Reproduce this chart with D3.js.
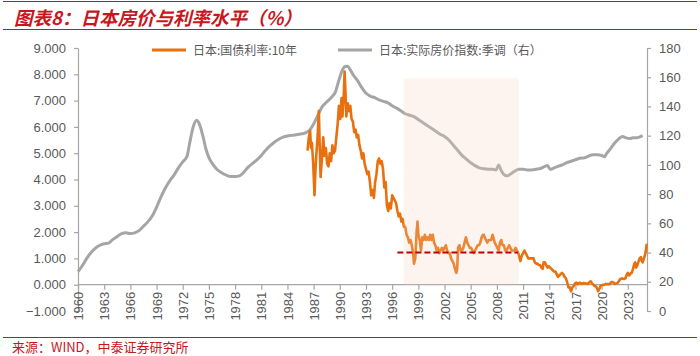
<!DOCTYPE html>
<html><head><meta charset="utf-8">
<script src="https://cdn.jsdelivr.net/npm/d3@7"></script>
<style>
html,body{margin:0;padding:0;background:#fff;}
svg{display:block;font-family:Arial,"Liberation Sans","Noto Sans CJK SC",sans-serif;}
</style></head>
<body>
<svg id="c" width="700" height="356"></svg>
<script>
// ---- data ----
const titleText = "图表8：日本房价与利率水平（%）";
const sourceText = "来源：WIND，中泰证券研究所";
const seriesNames = ["日本:国债利率:10年", "日本:实际房价指数:季调（右）"];
const xTickYears = d3.range(1960, 2024, 3);
const leftTicks = [-1,0,1,2,3,4,5,6,7,8,9];
const rightTicks = [0,20,40,60,80,100,120,140,160,180];

// 日本:国债利率:10年 (year, %)
const bondYears = [1986.3,1986.45,1986.6,1986.7,1986.8,1986.95,1987.1,1987.2,1987.3,1987.45,1987.6,1987.7,1987.8,1987.95,1988.1,1988.25,1988.4,1988.55,1988.7,1988.85,1989.0,1989.15,1989.3,1989.45,1989.6,1989.75,1989.9,1990.05,1990.2,1990.3,1990.45,1990.55,1990.65,1990.75,1990.9,1991.05,1991.2,1991.35,1991.5,1991.65,1991.8,1991.95,1992.1,1992.25,1992.4,1992.55,1992.7,1992.85,1993.0,1993.15,1993.3,1993.45,1993.6,1993.75,1993.9,1994.05,1994.2,1994.35,1994.5,1994.65,1994.8,1994.95,1995.1,1995.25,1995.4,1995.55,1995.7,1995.85,1996.0,1996.15,1996.3,1996.45,1996.6,1996.75,1996.9,1997.05,1997.2,1997.35,1997.5,1997.65,1997.8,1997.95,1998.1,1998.25,1998.4,1998.5,1998.65,1998.8,1998.9,1999.0,1999.15,1999.3,1999.45,1999.6,1999.75,1999.9,2000.05,2000.2,2000.35,2000.5,2000.65,2000.8,2000.95,2001.1,2001.25,2001.4,2001.55,2001.7,2001.85,2002.0,2002.15,2002.3,2002.45,2002.6,2002.75,2002.9,2003.05,2003.2,2003.35,2003.45,2003.55,2003.7,2003.85,2004.0,2004.15,2004.3,2004.45,2004.6,2004.75,2004.9,2005.05,2005.2,2005.35,2005.5,2005.65,2005.8,2005.95,2006.1,2006.25,2006.4,2006.5,2006.6,2006.75,2006.9,2007.05,2007.2,2007.35,2007.5,2007.6,2007.75,2007.9,2008.05,2008.2,2008.35,2008.5,2008.65,2008.8,2008.95,2009.1,2009.25,2009.4,2009.55,2009.7,2009.85,2010.0,2010.15,2010.3,2010.45,2010.6,2010.7,2010.85,2011.0,2011.15,2011.3,2011.45,2011.6,2011.75,2011.9,2012.05,2012.2,2012.35,2012.5,2012.65,2012.8,2012.95,2013.1,2013.25,2013.35,2013.5,2013.65,2013.8,2013.95,2014.1,2014.25,2014.4,2014.55,2014.7,2014.85,2015.0,2015.15,2015.3,2015.45,2015.6,2015.75,2015.9,2016.05,2016.2,2016.35,2016.5,2016.65,2016.8,2016.95,2017.1,2017.25,2017.4,2017.55,2017.7,2017.85,2018.0,2018.15,2018.3,2018.45,2018.6,2018.75,2018.9,2019.05,2019.2,2019.35,2019.5,2019.6,2019.75,2019.9,2020.05,2020.2,2020.35,2020.5,2020.65,2020.8,2020.95,2021.1,2021.25,2021.4,2021.55,2021.7,2021.85,2022.0,2022.15,2022.3,2022.45,2022.6,2022.75,2022.9,2023.0,2023.15,2023.3,2023.45,2023.6,2023.75,2023.85,2023.95,2024.05,2024.2,2024.35,2024.5,2024.6,2024.7,2024.85,2024.95,2025.05,2025.15,2025.2];
const bondValues = [5.1,5.6,5.85,5.2,5.4,4.6,3.4,4.3,4.9,5.6,6.6,5.2,4.1,4.8,5.6,4.9,5.2,4.6,4.5,5.0,4.7,5.3,5.0,5.1,5.6,6.1,6.8,6.3,7.1,6.4,7.2,8.1,7.3,6.4,6.9,6.6,6.8,6.3,6.2,5.8,5.9,5.6,5.7,5.3,5.1,4.8,5.0,4.6,4.4,4.2,4.3,3.9,3.4,3.6,3.3,3.9,4.2,4.7,4.8,4.6,4.7,4.4,3.7,3.9,3.0,2.8,3.1,2.9,3.4,3.3,3.2,3.1,2.8,2.6,2.7,2.4,2.5,2.2,2.2,1.9,1.8,1.6,1.7,1.5,1.2,0.8,1.0,2.0,2.4,1.9,1.7,1.3,1.8,1.7,1.9,1.7,1.8,1.7,1.9,1.7,1.9,1.6,1.5,1.3,1.4,1.2,1.3,1.4,1.3,1.4,1.5,1.3,1.2,1.2,1.0,0.9,0.8,0.6,0.45,0.6,1.4,1.5,1.3,1.3,1.4,1.6,1.8,1.6,1.5,1.4,1.4,1.3,1.2,1.3,1.4,1.5,1.5,1.6,1.8,1.9,1.9,1.8,1.7,1.6,1.7,1.7,1.7,1.9,1.8,1.6,1.5,1.4,1.3,1.6,1.7,1.5,1.5,1.3,1.3,1.4,1.5,1.4,1.3,1.3,1.3,1.4,1.3,1.2,1.0,0.9,1.1,1.2,1.3,1.2,1.1,1.0,1.0,1.0,1.0,1.0,0.85,0.8,0.8,0.75,0.75,0.65,0.6,0.85,0.85,0.75,0.65,0.7,0.65,0.6,0.55,0.5,0.5,0.4,0.3,0.35,0.4,0.45,0.4,0.3,0.25,0.1,-0.1,-0.1,-0.25,-0.1,-0.05,0.05,0.08,0.02,0.06,0.07,0.03,0.05,0.06,0.04,0.04,0.03,0.1,0.13,0.05,0.0,-0.05,-0.07,-0.15,-0.25,-0.15,-0.03,-0.02,0.0,0.0,0.03,0.02,0.02,0.02,0.1,0.1,0.07,0.03,0.05,0.07,0.15,0.22,0.24,0.23,0.22,0.25,0.4,0.45,0.35,0.42,0.45,0.6,0.8,0.85,0.65,0.7,0.85,1.0,1.05,0.9,0.85,1.0,1.1,1.25,1.5,1.55];

// 日本:实际房价指数:季调 (year, index) — right axis
const houseYears = [1960.0,1960.5,1961.0,1961.5,1962.0,1962.5,1963.0,1963.5,1964.0,1964.5,1965.0,1965.5,1966.0,1966.5,1967.0,1967.5,1968.0,1968.5,1969.0,1969.5,1970.0,1970.5,1971.0,1971.5,1972.0,1972.5,1972.8,1973.2,1973.6,1973.9,1974.3,1974.7,1975.0,1975.5,1976.0,1976.5,1977.0,1977.5,1978.0,1978.5,1979.0,1979.5,1980.0,1980.5,1981.0,1981.5,1982.0,1982.5,1983.0,1983.5,1984.0,1984.5,1985.0,1985.5,1986.0,1986.5,1987.0,1987.5,1988.0,1988.5,1989.0,1989.5,1989.9,1990.3,1990.6,1990.9,1991.2,1991.6,1992.0,1992.5,1993.0,1993.5,1994.0,1994.5,1995.0,1995.5,1996.0,1996.6,1997.0,1997.5,1998.0,1998.5,1999.0,1999.5,2000.0,2000.5,2001.0,2001.5,2002.0,2002.5,2003.0,2003.5,2004.0,2004.5,2005.0,2005.5,2006.0,2006.5,2007.0,2007.5,2007.9,2008.2,2008.5,2008.9,2009.2,2009.6,2010.0,2010.5,2011.0,2011.5,2012.0,2012.5,2013.0,2013.5,2013.8,2014.1,2014.5,2015.0,2015.5,2016.0,2016.5,2017.0,2017.5,2018.0,2018.5,2019.0,2019.5,2020.0,2020.3,2020.6,2021.0,2021.5,2022.0,2022.4,2022.8,2023.2,2023.6,2024.0,2024.5,2024.7];
const houseValues = [27,31,36,40,43,45,46,46.5,49,51,53,53.5,53,53.5,55,58,61,65,71,78,84,89,93,98,102,106,115,126,130.5,128,120,110,105,100,96.5,94.5,93,92,92,92.5,95,98.5,101,103.5,106.5,110,113,115.5,117.5,119,119.8,120.2,120.6,121.2,121.8,123.5,128,134,140,143,146,150,158,165,167.3,167.5,165,161,158,153,149,147,146,144.5,143.5,142.5,140.5,138.5,137,135,134,133,131,129,127,125,123,121,119.5,117,113.5,110,106.5,104,101.5,99.5,98,97.3,97,97,96.5,100,96,93,92.5,94,95.5,97,97,96.5,96.5,97,97.5,99,99.5,97,97.8,99,100,101.5,102.5,103.5,104.5,104.8,106,107,107,106.5,105.5,108,111,115,118,119.5,118.5,118,118.5,118.5,119.5,120];

// annotations
const shadeRange = [1997.3, 2010.5];
const shadeTop = 7.85;           // left-axis value
const dashRange = [1996.6, 2010.4];
const dashLevel = 1.22;          // left-axis value

// ---- layout ----
const svg = d3.select("#c");
const x0 = 78, x1 = 647, yTop = 48, yBot = 311;

const x = d3.scaleLinear().domain([1960, 2025.2]).range([x0, x1]);
const yL = d3.scaleLinear().domain([-1, 9]).range([yBot, yTop]);
const yR = d3.scaleLinear().domain([0, 180]).range([yBot, yTop]);

const red = "#c8161d";
const axisColor = "#a6a6a6";
const textColor = "#595959";

// title
svg.append("line").attr("x1",3).attr("x2",697).attr("y1",1.5).attr("y2",1.5).attr("stroke",red).attr("stroke-width",1);
svg.append("text").attr("x",14).attr("y",25)
  .attr("fill",red).attr("font-size",18.5).attr("font-weight","bold").attr("font-style","italic")
  .attr("font-family","'Noto Sans CJK SC',sans-serif")
  .text(titleText);
svg.append("line").attr("x1",3).attr("x2",697).attr("y1",29.5).attr("y2",29.5).attr("stroke",red).attr("stroke-width",1.2);

// source
svg.append("line").attr("x1",3).attr("x2",697).attr("y1",337.5).attr("y2",337.5).attr("stroke",red).attr("stroke-width",1.2);
svg.append("text").attr("x",12).attr("y",352)
  .attr("fill",red).attr("font-size",13)
  .attr("font-family","'Noto Sans CJK SC',sans-serif")
  .text(sourceText);

// axes
const gL = svg.append("g").attr("transform",`translate(${x0},0)`)
  .call(d3.axisLeft(yL).tickValues(leftTicks).tickFormat(d3.format(".3f")).tickSize(4).tickSizeOuter(0).tickPadding(8));
const gR = svg.append("g").attr("transform",`translate(${x1},0)`)
  .call(d3.axisRight(yR).tickValues(rightTicks).tickSize(4).tickSizeOuter(0).tickPadding(8));
const gX = svg.append("g").attr("transform",`translate(0,${yL(0)})`)
  .call(d3.axisBottom(x).tickValues(xTickYears).tickFormat(d3.format("d")).tickSize(5).tickSizeOuter(0));
gX.selectAll("text").attr("transform","rotate(-90)").attr("text-anchor","end")
  .attr("x",-7).attr("y",0).attr("dy","0.35em");
[gL,gR,gX].forEach(g=>{
  g.selectAll("path,line").attr("stroke",axisColor).attr("stroke-width",1.2);
  g.selectAll("text").attr("fill",textColor).attr("font-size",13).attr("font-family","Arial,'Liberation Sans',sans-serif");
});
gX.select("path.domain").attr("d",`M${x0},0H${x1}`);

// lines
const houseData = houseYears.map((d,i)=>[d,houseValues[i]]);
const bondData = bondYears.map((d,i)=>[d,bondValues[i]]);

svg.append("path").datum(houseData)
  .attr("fill","none").attr("stroke","#a5a5a5").attr("stroke-width",3).attr("stroke-linejoin","round")
  .attr("d", d3.line().x(d=>x(d[0])).y(d=>yR(d[1])).curve(d3.curveMonotoneX));
svg.append("path").datum(bondData)
  .attr("fill","none").attr("stroke","#e8700f").attr("stroke-width",2.6).attr("stroke-linejoin","round")
  .attr("d", d3.line().x(d=>x(d[0])).y(d=>yL(d[1])));

// shading (over lines, translucent)
svg.append("rect")
  .attr("x",x(shadeRange[0])).attr("width",x(shadeRange[1])-x(shadeRange[0]))
  .attr("y",yL(shadeTop)).attr("height",yL(0)-yL(shadeTop))
  .attr("fill","#f7d3bd").attr("opacity",0.24);

// dashed level
svg.append("line")
  .attr("x1",x(dashRange[0])).attr("x2",x(dashRange[1]))
  .attr("y1",yL(dashLevel)).attr("y2",yL(dashLevel))
  .attr("stroke","#c00000").attr("stroke-width",2).attr("stroke-dasharray","6,3");

// legend
const legend = [
  {name: seriesNames[0], color:"#e8700f", lx:152},
  {name: seriesNames[1], color:"#a5a5a5", lx:338}
];
legend.forEach(l=>{
  svg.append("line").attr("x1",l.lx).attr("x2",l.lx+34).attr("y1",50).attr("y2",50)
    .attr("stroke",l.color).attr("stroke-width",3);
  svg.append("text").attr("x",l.lx+41).attr("y",54.5)
    .attr("fill",textColor).attr("font-size",12)
    .attr("font-family","'Noto Sans CJK SC',sans-serif")
    .text(l.name);
});
</script>
</body></html>
